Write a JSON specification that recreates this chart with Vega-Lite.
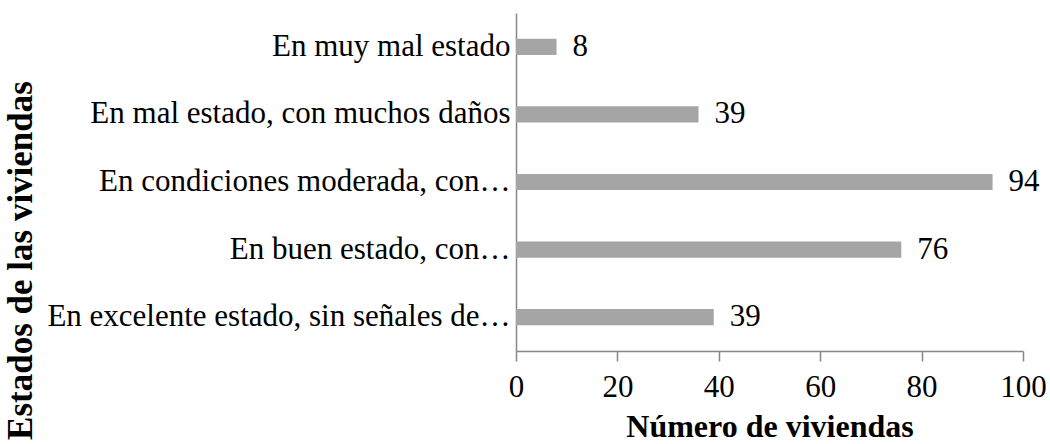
{
  "$schema": "https://vega.github.io/schema/vega-lite/v6.json",
  "width": 507,
  "height": 338,
  "autosize": {"type": "none"},
  "padding": {"left": 516, "top": 13, "right": 27, "bottom": 93},
  "background": "white",
  "config": {"view": {"stroke": null}, "font": "Liberation Serif"},
  "data": {
    "values": [
      {"estado": "En muy mal estado", "viviendas": 8, "etiqueta": "8"},
      {"estado": "En mal estado, con muchos daños", "viviendas": 36, "etiqueta": "39"},
      {"estado": "En condiciones moderada, con…", "viviendas": 94, "etiqueta": "94"},
      {"estado": "En buen estado, con…", "viviendas": 76, "etiqueta": "76"},
      {"estado": "En excelente estado, sin señales de…", "viviendas": 39, "etiqueta": "39"}
    ]
  },
  "encoding": {
    "y": {
      "field": "estado",
      "type": "nominal",
      "sort": null,
      "scale": {"paddingInner": 0.76, "paddingOuter": 0.38},
      "axis": {
        "title": "Estados de las viviendas",
        "titleFont": "Liberation Serif",
        "titleFontSize": 35,
        "titleFontWeight": "bold",
        "titleColor": "black",
        "titleX": -496,
        "titleY": 247,
        "titleAngle": 270,
        "titleAlign": "center",
        "titleBaseline": "middle",
        "labelFont": "Liberation Serif",
        "labelFontSize": 31,
        "labelColor": "black",
        "labelPadding": 6,
        "labelLimit": 0,
        "ticks": false,
        "domainColor": "#868686",
        "domainWidth": 1.5
      }
    },
    "x": {
      "field": "viviendas",
      "type": "quantitative",
      "scale": {"domain": [0, 100]},
      "axis": {
        "values": [0, 20, 40, 60, 80, 100],
        "grid": false,
        "tickSize": 10,
        "tickColor": "#868686",
        "tickWidth": 1.5,
        "domainColor": "#868686",
        "domainWidth": 1.5,
        "labelFont": "Liberation Serif",
        "labelFontSize": 31,
        "labelColor": "black",
        "labelPadding": 11,
        "labelFlush": false,
        "labelOverlap": false,
        "title": "Número de viviendas",
        "titleFont": "Liberation Serif",
        "titleFontSize": 32,
        "titleFontWeight": "bold",
        "titleColor": "black",
        "titleBaseline": "alphabetic",
        "titleY": 85
      }
    }
  },
  "layer": [
    {"mark": {"type": "bar", "color": "#a5a5a5"}},
    {
      "mark": {"type": "text", "align": "left", "baseline": "middle", "dx": 16, "fontSize": 31, "font": "Liberation Serif", "color": "black"},
      "encoding": {"text": {"field": "etiqueta"}}
    }
  ]
}
